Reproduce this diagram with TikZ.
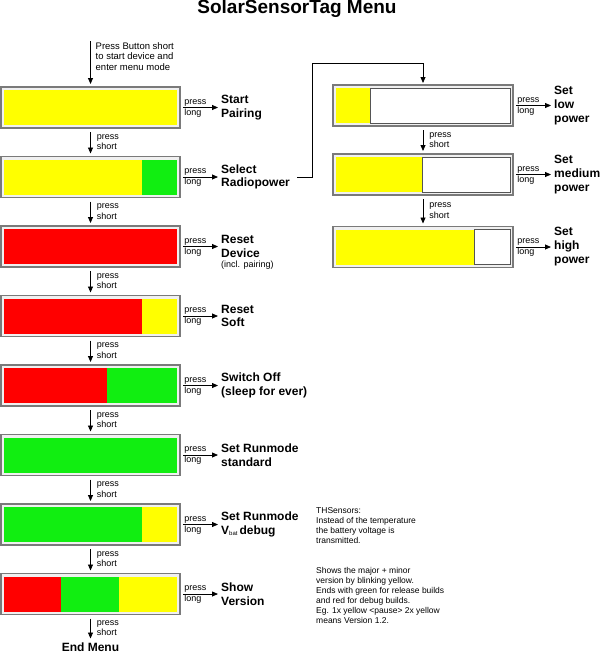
\documentclass[tikz,border=0pt]{standalone}
\usepackage{fontspec}
\setmainfont{Liberation Sans}
\usepackage{tikz}
\usetikzlibrary{arrows.meta,calc,positioning}
\definecolor{ink}{HTML}{000000}
\definecolor{framegray}{HTML}{7A7A7A}
\definecolor{gapgray}{HTML}{F0F0F0}
\definecolor{edgegray}{HTML}{555555}
\definecolor{ledyellow}{HTML}{FFFF00}
\definecolor{ledred}{HTML}{FF0000}
\definecolor{ledgreen}{HTML}{11EE11}
\tikzset{
  figtitle/.style={font=\bfseries\fontsize{19}{22}\selectfont, text=ink},
  ledbar/.style={
    draw=framegray,
    line width=1.2pt,
    fill=gapgray,
    minimum width=179pt,
    minimum height=41pt,
    inner sep=0pt,
    outer sep=0pt
  },
  offpart/.style={draw=edgegray, line width=0.6pt, fill=white},
  action/.style={font=\bfseries\fontsize{12}{13.5}\selectfont, text=ink, align=left, inner sep=1pt},
  presslbl/.style={font=\fontsize{9}{10.5}\selectfont, text=ink, align=left, inner sep=1pt},
  notetext/.style={font=\fontsize{8.5}{10}\selectfont, text=ink, align=left, inner sep=0pt},
  stepdown/.style={-{Triangle[length=6pt,width=5pt]}, line width=0.8pt, draw=ink, shorten <=4pt, shorten >=3pt},
  longarrow/.style={-{Triangle[length=6pt,width=5pt]}, line width=0.8pt, draw=ink, shorten >=2pt},
  linkline/.style={-{Triangle[length=6pt,width=5pt]}, line width=0.8pt, draw=ink, shorten >=2pt}
}

\begin{document}
\begin{tikzpicture}[x=1pt, y=1pt, node distance=28.5pt and 40pt]
  \useasboundingbox (0,0) rectangle (600,-653);
  \node[figtitle] (title) at (297,-9) {SolarSensorTag Menu};

  % main menu column
  \coordinate (start) at (90.5,-41);
  \node[ledbar] (b1) at (90.5,-107.5) {};
  \node[ledbar, below=of b1] (b2) {};
  \node[ledbar, below=of b2] (b3) {};
  \node[ledbar, below=of b3] (b4) {};
  \node[ledbar, below=of b4] (b5) {};
  \node[ledbar, below=of b5] (b6) {};
  \node[ledbar, below=of b6] (b7) {};
  \node[ledbar, below=of b7] (b8) {};

  % radio power column
  \node[ledbar, minimum width=180pt] (r1) at (423,-105.5) {};
  \node[ledbar, minimum width=180pt, below=28pt of r1] (r2) {};
  \node[ledbar, minimum width=180pt, below=31.5pt of r2] (r3) {};

  % led colours
  \foreach \bar/\from/\to/\col in {b1/3/176/ledyellow, b2/3/141/ledyellow, b2/141/176/ledgreen,
      b3/3/176/ledred, b4/3/141/ledred, b4/141/176/ledyellow, b5/3/106/ledred, b5/106/176/ledgreen,
      b6/3/176/ledgreen, b7/3/141/ledgreen, b7/141/176/ledyellow, b8/3/60/ledred,
      b8/60/118/ledgreen, b8/118/176/ledyellow, r1/3/37/ledyellow, r2/3/89/ledyellow, r3/3/141/ledyellow}
    \fill[\col] ($(\bar.south west)+(\from,3)$) rectangle ($(\bar.north west)+(\to,-3)$);
  \foreach \bar/\from in {r1/37, r2/89, r3/141}
    \draw[offpart] ($(\bar.south west)+(\from,3)$) rectangle ($(\bar.north east)+(-3,-3)$);

  % what a long press does
  \node[action, right=40pt of b1] (a1) {Start\\Pairing};
  \node[action, right=40pt of b2] (a2) {Select\\Radiopower};
  \node[action, right=40pt of b3] (a3) {Reset\\Device};
  \node[presslbl, below=1pt of a3.south west, anchor=north west] (a3x) {(incl. pairing)};
  \node[action, right=40pt of b4] (a4) {Reset\\Soft};
  \node[action, right=40pt of b5] (a5) {Switch Off\\(sleep for ever)};
  \node[action, right=40pt of b6] (a6) {Set Runmode\\standard};
  \node[action, right=40pt of b7] (a7)
    {Set Runmode\\V\raisebox{-1.5pt}{\fontsize{6}{6}\mdseries\selectfont bat}\,debug};
  \node[action, right=40pt of b8] (a8) {Show\\Version};
  \node[action, right=40pt of r1, font=\bfseries\fontsize{12}{14}\selectfont] (p1) {Set\\low\\power};
  \node[action, right=40pt of r2, font=\bfseries\fontsize{12}{14}\selectfont] (p2) {Set\\medium\\power};
  \node[action, right=40pt of r3, font=\bfseries\fontsize{12}{14}\selectfont] (p3) {Set\\high\\power};
  \node[action, below=27pt of b8] (endm) {End Menu};

  \node[presslbl, anchor=north west, font=\fontsize{9.5}{10.5}\selectfont] (hint) at ([xshift=4pt]start)
    {Press Button short\\to start device and\\enter menu mode};
  \draw[stepdown, shorten <=0pt] (start) -- (b1);

  \foreach \i/\j in {b1/b2, b2/b3, b3/b4, b4/b5, b5/b6, b6/b7, b7/b8, b8/endm, r1/r2, r2/r3}
    \draw[stepdown] (\i) -- (\j) node[presslbl, midway, right=5pt] {press\\short};

  \foreach \i/\j in {b1/a1, b2/a2, b3/a3, b4/a4, b5/a5, b6/a6, b7/a7, b8/a8, r1/p1, r2/p2, r3/p3}
    \draw[longarrow] ([xshift=3pt]\i.east) -- (\j)
      node[presslbl, pos=0, above right] {press}
      node[presslbl, pos=0, below right] {long};

  \draw[linkline] ([xshift=6pt]a2.east) -- ++(15,0) |- ([yshift=22pt]r1.north) -- (r1.north);

  \node[notetext, anchor=north west] (thnote) at (316,-507)
    {THSensors:\\Instead of the temperature\\the battery voltage is\\transmitted.};
  \node[notetext, anchor=north west] (vernote) at (316,-567)
    {Shows the major + minor\\version by blinking yellow.\\Ends with green for release builds\\and red for debug builds.\\Eg. 1x yellow <pause> 2x yellow\\means Version 1.2.};
\end{tikzpicture}
\end{document}
